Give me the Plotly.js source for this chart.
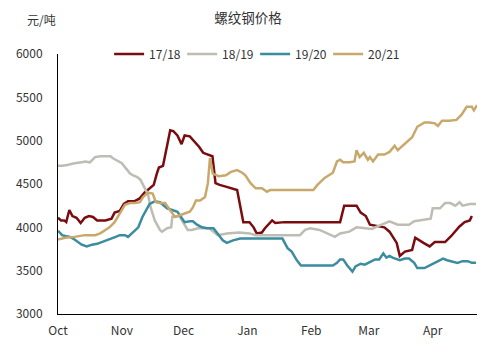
<!DOCTYPE html>
<html>
<head>
<meta charset="utf-8">
<script src="https://cdn.plot.ly/plotly-3.0.1.min.js"></script>
<style>html,body{margin:0;padding:0;background:#fff;}#chart{width:496px;height:345px;}</style>
</head>
<body>
<div id="chart"></div>
<script>
// x = days since Oct 1 of each season
const monthTickDays = [0, 31, 61, 92, 123, 151, 182];
const monthTickLabels = ["Oct", "Nov", "Dec", "Jan", "Feb", "Mar", "Apr"];
const seriesNames = ["17/18", "18/19", "19/20", "20/21"];

const days1718 = [0,1.5,3,4,5.5,7,9,11,13,15,17,19,23,26,27.5,30,32,34,37,39.5,42,44.5,46.5,48,49,51,53,54.5,56,58,60,61.5,64,66,68.5,70.5,73.5,75,76.5,78.5,81.5,84.5,87,90,93,95,96.5,99,100.5,104,105.5,110,118,137,139,145,147,149.5,151.5,156,158.5,161,162.5,164.5,166,168.5,172,173.5,177.5,180.5,183,188,191,195,197.5,200,201];
const price1718 = [4110,4080,4080,4060,4200,4130,4110,4050,4110,4130,4120,4080,4080,4100,4170,4190,4270,4300,4300,4330,4400,4450,4490,4620,4690,4710,4940,5120,5110,5060,4960,5060,5050,5000,4930,4860,4830,4820,4510,4490,4470,4450,4430,4060,4060,4000,3930,3940,3990,4080,4050,4060,4060,4060,4250,4250,4170,4130,4030,4010,4000,3950,3900,3820,3670,3720,3740,3880,3820,3780,3830,3830,3900,4010,4060,4080,4130];

const days1819 = [0,2,4.5,8,11.5,13,15.5,18,20.5,25.5,26.5,29,31,33,35,36.5,38.5,40,41.5,43.7,45,47,49.5,50.5,53,55,55.5,59,61,63,65,68,73.5,77.5,82,88,93,96,108,117.5,120,122.5,127,134.5,137,141.5,145,149,152.5,154,159,161,165,170.5,173,178,181,182,185.5,188,190.5,193,195,196.5,200,203];
const price1819 = [4710,4710,4720,4740,4750,4760,4750,4810,4820,4820,4800,4770,4740,4680,4620,4600,4580,4550,4480,4380,4230,4080,3970,3950,3990,4000,4120,4130,4050,3970,3970,3990,3990,3910,3930,3940,3930,3910,3910,3910,3970,3990,3970,3890,3930,3950,4000,3990,3980,4000,4050,4070,4030,4030,4070,4090,4100,4220,4220,4280,4280,4250,4290,4250,4270,4270];

const days1920 = [0,2,3.5,5.8,8,11.5,14,16.5,19,21.5,24.5,28,30,32.5,34,36.5,39,41,43,44.5,47,49.5,53,55.5,58,60,61.5,64,65.5,67.5,70,72.5,75.5,77.5,80,82,85,88.5,109,111.5,113.5,116,118,133.5,135.5,137,138.5,140.5,143,144.5,147,149,151.5,154,156,158,159.5,161,162.5,166,168.5,170.5,173,174.5,178,180.5,183,185.5,187,189,191,194,196.5,199,201,203];
const price1920 = [3960,3910,3900,3890,3860,3800,3780,3800,3810,3830,3860,3890,3910,3910,3890,3950,4000,4120,4200,4270,4300,4290,4220,4200,4180,4110,4060,4070,4070,4030,4000,3990,3990,3930,3850,3820,3850,3870,3870,3760,3720,3620,3560,3560,3590,3630,3630,3560,3490,3550,3580,3570,3600,3630,3630,3700,3650,3670,3650,3620,3640,3640,3590,3530,3530,3560,3590,3620,3640,3620,3610,3590,3610,3610,3590,3590];

const days2021 = [0,3.5,8,13,18,20.5,23,25,27.5,30,32.5,35,37.5,39.8,41.3,43.7,46,47.5,49.5,52,54.5,56.8,59.2,61.7,64,65.5,67,69,71.4,72.8,73.8,75.2,78,81.5,84,87,89.5,91,93.5,96,99,101.5,103,105,110,117.5,124,126,129.5,133.5,135.5,137,138.5,141.5,144,145,146.5,148.5,150.5,151.5,153,155.5,158.5,161,163.5,165,168.5,172,174.5,178,180.5,183,184.5,186.5,190,193.5,196,198.5,201,202,203.5];
const price2021 = [3860,3880,3890,3910,3910,3930,3970,4000,4060,4160,4260,4280,4280,4290,4350,4400,4390,4290,4280,4280,4200,4120,4140,4160,4180,4230,4310,4310,4350,4510,4800,4620,4590,4600,4640,4660,4630,4600,4510,4450,4450,4410,4430,4430,4430,4430,4430,4490,4570,4630,4760,4780,4750,4750,4760,4890,4810,4860,4780,4810,4760,4840,4840,4870,4940,4890,4970,5040,5160,5210,5210,5200,5170,5230,5230,5240,5300,5390,5390,5350,5410];

const colors = ["#7a0c10", "#bfbcb3", "#3b8c9e", "#c9a86c"];
const xs = [days1718, days1819, days1920, days2021];
const ys = [price1718, price1819, price1920, price2021];

const FONT = '"Noto Sans CJK SC", "Noto Sans", sans-serif';
const traces = seriesNames.map((n, i) => ({
  type: 'scatter', mode: 'lines', name: n,
  x: xs[i], y: ys[i],
  line: {color: colors[i], width: 2.5, shape: 'linear'}
}));

const layout = {
  width: 496, height: 345,
  margin: {l: 58, r: 19, t: 54, b: 31},
  paper_bgcolor: '#fff', plot_bgcolor: '#fff',
  font: {family: FONT, size: 12, color: '#333'},
  title: {text: '螺纹钢价格', x: 0.5, xanchor: 'center', y: 0.948, yanchor: 'middle',
          font: {family: FONT, size: 13.5, color: '#333'}},
  showlegend: true,
  legend: {orientation: 'h', x: 0.122, xanchor: 'left', y: 1, yanchor: 'middle',
           font: {family: FONT, size: 12, color: '#333'},
           bgcolor: 'rgba(255,255,255,0)', itemwidth: 30,
           entrywidth: 28, entrywidthmode: 'pixels', traceorder: 'normal'},
  xaxis: {range: [0, 203.5], tickmode: 'array', tickvals: monthTickDays, ticktext: monthTickLabels,
          showgrid: false, zeroline: false, showline: true, linecolor: '#000', linewidth: 1,
          ticks: '', ticklabelstandoff: 6, tickfont: {family: FONT, size: 12, color: '#333'}, fixedrange: true},
  yaxis: {range: [3000, 6000], tickmode: 'array', tickvals: [3000,3500,4000,4500,5000,5500,6000],
          ticktext: ['3000','3500','4000','4500','5000','5500','6000'],
          showgrid: false, zeroline: false, showline: true, linecolor: '#000', linewidth: 1,
          ticks: '', ticklabelstandoff: 12, tickfont: {family: FONT, size: 12, color: '#333'}, fixedrange: true},
  annotations: [{text: '元/吨', xref: 'paper', yref: 'paper', x: -0.039, y: 1.131,
                 xanchor: 'center', yanchor: 'middle', showarrow: false,
                 font: {family: FONT, size: 12, color: '#333'}}]
};

Plotly.newPlot('chart', traces, layout, {displayModeBar: false, staticPlot: true});
</script>
</body>
</html>
